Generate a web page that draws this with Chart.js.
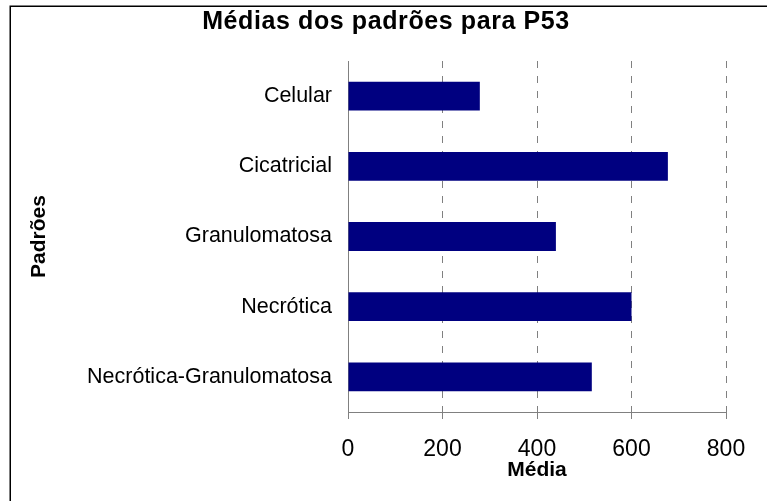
<!DOCTYPE html>
<html>
<head>
<meta charset="utf-8">
<script src="https://cdn.jsdelivr.net/npm/chart.js@4"></script>
<style>
html, body { margin: 0; padding: 0; background: #fff; }
#wrap { width: 767px; height: 501px; }
</style>
</head>
<body>
<div id="wrap"><canvas id="chart" width="767" height="501"></canvas></div>
<script>
// data
var titleText = 'Médias dos padrões para P53';
var categories = ['Celular', 'Cicatricial', 'Granulomatosa', 'Necrótica', 'Necrótica-Granulomatosa'];
var medias = [279, 677, 440, 600, 516];
var xTicks = [0, 200, 400, 600, 800];
var xTitle = 'Média';
var yTitle = 'Padrões';

var family = '"Liberation Sans", Arial, sans-serif';

// frame round the chart + title text (drawn by hand so it can sit off-centre like the original)
var frameAndTitle = {
    id: 'frameAndTitle',
    beforeDraw: function(chart) {
        var ctx = chart.ctx;
        ctx.save();
        ctx.fillStyle = '#fff';
        ctx.fillRect(0, 0, chart.width, chart.height);
        ctx.strokeStyle = '#000';
        ctx.lineWidth = 1.5;
        ctx.strokeRect(10.25, 6.25, chart.width + 40, chart.height + 40);
        ctx.restore();
    },
    afterDraw: function(chart) {
        var ctx = chart.ctx;
        ctx.save();
        ctx.font = 'bold 25px ' + family;
        if ('letterSpacing' in ctx) ctx.letterSpacing = '0.6px';
        ctx.fillStyle = '#000';
        ctx.textAlign = 'center';
        ctx.textBaseline = 'middle';
        ctx.fillText(titleText, 386, 22);
        ctx.restore();
    }
};

new Chart(document.getElementById('chart'), {
    type: 'bar',
    data: {
        labels: categories,
        datasets: [{
            label: xTitle,
            data: medias,
            backgroundColor: '#000080',
            borderWidth: 0,
            barPercentage: 0.41,
            categoryPercentage: 1
        }]
    },
    options: {
        indexAxis: 'y',
        responsive: false,
        animation: false,
        devicePixelRatio: 1,
        layout: { padding: { left: 0, right: 41, top: 61, bottom: 0 } },
        plugins: {
            legend: { display: false },
            title: { display: false },
            tooltip: { enabled: false }
        },
        scales: {
            x: {
                min: xTicks[0],
                max: xTicks[xTicks.length - 1],
                afterBuildTicks: function(scale) {
                    scale.ticks = xTicks.map(function(v) { return { value: v }; });
                },
                afterFit: function(scale) { scale.height = 89; },
                grid: { color: '#808080', lineWidth: 1, tickLength: 7, tickColor: '#808080' },
                border: { display: true, color: '#808080', width: 1, dash: [7, 8] },
                ticks: { color: '#000', font: { family: family, size: 23 }, padding: 17, maxRotation: 0 },
                title: {
                    display: true, text: xTitle, color: '#000',
                    font: { family: family, size: 21, weight: 'bold' },
                    padding: { top: 0, bottom: 18 }
                }
            },
            y: {
                afterFit: function(scale) { scale.width = 348; },
                grid: { display: false, drawTicks: false },
                border: { display: true, color: '#808080', width: 1 },
                ticks: { color: '#000', font: { family: family, size: 21.5 }, padding: 16 },
                title: {
                    display: true, text: yTitle, color: '#000',
                    font: { family: family, size: 21, weight: 'bold' },
                    padding: { top: 27, bottom: 0 }
                }
            }
        }
    },
    plugins: [frameAndTitle]
});
</script>
</body>
</html>
